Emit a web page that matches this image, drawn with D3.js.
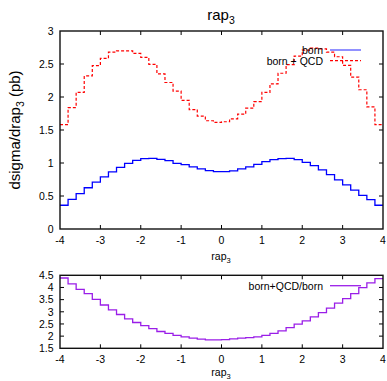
<!DOCTYPE html>
<html><head><meta charset="utf-8">
<script src="https://cdn.jsdelivr.net/npm/d3@7"></script>
<style>body{margin:0;background:#fff}svg{display:block}text{font-family:"Liberation Sans",Arial,sans-serif;fill:#000}</style>
</head><body>
<svg id="c" width="387" height="381"></svg>
<script>
// bin lower edges (bin width 0.2, upper edge of last bin = 4)
const binLo = [-4.0,-3.8,-3.6,-3.4,-3.2,-3.0,-2.8,-2.6,-2.4,-2.2,-2.0,-1.8,-1.6,-1.4,-1.2,-1.0,-0.8,-0.6,-0.4,-0.2,
                0.0,0.2,0.4,0.6,0.8,1.0,1.2,1.4,1.6,1.8,2.0,2.2,2.4,2.6,2.8,3.0,3.2,3.4,3.6,3.8];
const xMax = 4;
const born = [0.36,0.45,0.535,0.625,0.71,0.79,0.865,0.935,0.995,1.04,1.065,1.07,1.055,1.035,0.995,0.975,0.94,0.91,0.885,0.87,
              0.87,0.88,0.91,0.94,0.98,1.02,1.05,1.065,1.07,1.05,1.01,0.96,0.895,0.825,0.745,0.67,0.59,0.51,0.445,0.36];
const bornQCD = [1.58,1.84,2.07,2.32,2.475,2.586,2.68,2.70,2.70,2.66,2.60,2.495,2.35,2.22,2.09,1.95,1.81,1.71,1.64,1.615,
                 1.625,1.67,1.74,1.83,1.93,2.07,2.20,2.36,2.49,2.62,2.71,2.74,2.73,2.68,2.61,2.48,2.30,2.11,1.85,1.58];
const ratio = [4.39,4.15,3.92,3.75,3.51,3.28,3.08,2.89,2.71,2.56,2.43,2.31,2.19,2.11,2.03,1.97,1.92,1.875,1.85,1.85,
               1.86,1.89,1.92,1.94,1.97,2.03,2.11,2.22,2.35,2.49,2.63,2.79,2.97,3.15,3.36,3.54,3.75,3.99,4.19,4.36];
const xTicks = [-4,-3,-2,-1,0,1,2,3,4];
const yTicksTop = [0,0.5,1,1.5,2,2.5,3];
const yTicksBot = [1.5,2,2.5,3,3.5,4,4.5];

const svg = d3.select("#c");
const FS = 10.5;
const x = d3.scaleLinear().domain([-4,4]).range([60,383]);
const yT = d3.scaleLinear().domain([0,3]).range([229,31]);
const yB = d3.scaleLinear().domain([1.5,4.5]).range([348.3,275.3]);

function pts(vals){ const p = binLo.map((b,i)=>[b,vals[i]]); p.push([xMax, vals[vals.length-1]]); return p; }

function frame(y, yticks, fmt){
  const [y0,y1] = y.range();
  const g = svg.append("g");
  xTicks.forEach(t=>{
    if (t===-4||t===4) return;
    g.append("line").attr("x1",x(t)).attr("x2",x(t)).attr("y1",y0).attr("y2",y0-4).attr("stroke","#000");
    g.append("line").attr("x1",x(t)).attr("x2",x(t)).attr("y1",y1).attr("y2",y1+4).attr("stroke","#000");
  });
  yticks.forEach((t,i)=>{
    if (i===0||i===yticks.length-1) return;
    g.append("line").attr("x1",x(-4)).attr("x2",x(-4)+4).attr("y1",y(t)).attr("y2",y(t)).attr("stroke","#000");
    g.append("line").attr("x1",x(4)).attr("x2",x(4)-4).attr("y1",y(t)).attr("y2",y(t)).attr("stroke","#000");
  });
  xTicks.forEach(t=>{
    g.append("text").attr("x",x(t)).attr("y",y0+14.5).attr("text-anchor","middle").attr("font-size",FS).text(t);
  });
  yticks.forEach(t=>{
    g.append("text").attr("x",53.5).attr("y",y(t)+3.8).attr("text-anchor","end").attr("font-size",FS).text(fmt(t));
  });
}
function border(y){
  const [y0,y1] = y.range();
  svg.append("rect").attr("x",x(-4)).attr("y",y1).attr("width",x(4)-x(-4)).attr("height",y0-y1)
    .attr("fill","none").attr("stroke","#111").attr("stroke-width",1.4);
}
const fmt = d=>String(d);
frame(yT, yTicksTop, fmt);
frame(yB, yTicksBot, fmt);

const lineT = d3.line().x(d=>x(d[0])).y(d=>yT(d[1])).curve(d3.curveStepAfter);
const lineB = d3.line().x(d=>x(d[0])).y(d=>yB(d[1])).curve(d3.curveStepAfter);

svg.append("path").attr("d",lineT(pts(born))).attr("fill","none").attr("stroke","#0000ff").attr("stroke-width",1.3);
svg.append("path").attr("d",lineT(pts(bornQCD))).attr("fill","none").attr("stroke","#ff0000").attr("stroke-width",1.2).attr("stroke-dasharray","3,2");
svg.append("path").attr("d",lineB(pts(ratio))).attr("fill","none").attr("stroke","#9a1ee8").attr("stroke-width",1.3);

border(yT); border(yB);

// legends
function legendItem(lx, ly, label, color, dash){
  svg.append("text").attr("x",lx).attr("y",ly+3.8).attr("text-anchor","end").attr("font-size",FS).text(label);
  const l = svg.append("line").attr("x1",lx+7).attr("x2",lx+38).attr("y1",ly).attr("y2",ly).attr("stroke",color).attr("stroke-width",1.3);
  if (dash) l.attr("stroke-dasharray",dash);
}
legendItem(323, 50, "born", "#5555ff");
legendItem(323, 60.7, "born + QCD", "#ff0000", "3,2");
legendItem(323, 285.7, "born+QCD/born", "#9a1ee8");

// title
const t = svg.append("text").attr("x",221).attr("y",19.5).attr("text-anchor","middle").attr("font-size",15);
t.append("tspan").text("rap");
t.append("tspan").attr("font-size",10.5).attr("dy",4).text("3");

// y label
const yl = svg.append("text").attr("transform","translate(20,130) rotate(-90)").attr("text-anchor","middle").attr("font-size",15);
yl.append("tspan").text("dsigma/drap");
yl.append("tspan").attr("font-size",10.5).attr("dy",4).text("3");
yl.append("tspan").attr("dy",-4).text(" (pb)");

// x labels
function xlab(yy){
  const e = svg.append("text").attr("x",221).attr("y",yy).attr("text-anchor","middle").attr("font-size",FS);
  e.append("tspan").text("rap");
  e.append("tspan").attr("font-size",7.5).attr("dy",3).text("3");
}
xlab(259.5);
xlab(375.5);
</script>
</body></html>
